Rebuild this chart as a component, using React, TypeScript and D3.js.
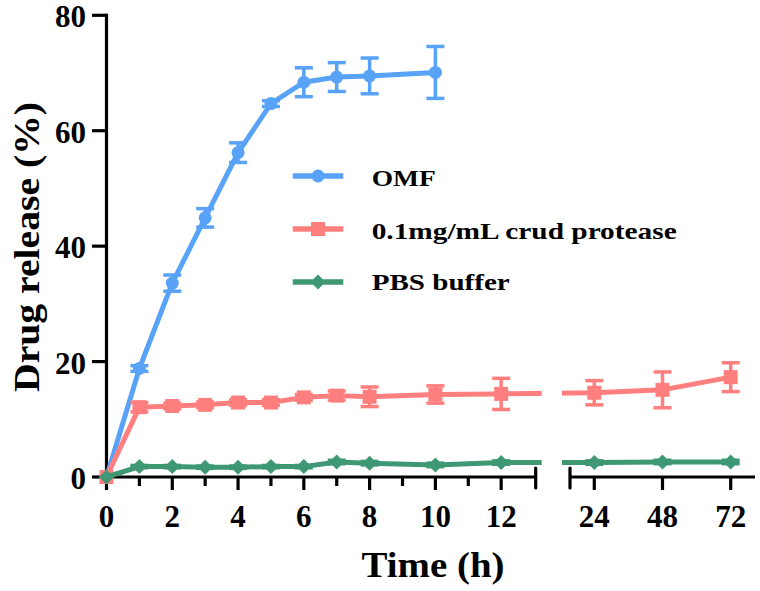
import React from "react";
import * as d3 from "d3";

const timesOMF = [0, 1, 2, 3, 4, 5, 6, 7, 8, 10];
const omfValues = [0, 18.8, 33.6, 44.9, 56.2, 64.7, 68.4, 69.3, 69.5, 70.1];
const omfErrors = [0, 0.5, 1.4, 1.6, 1.7, 0.5, 2.5, 2.5, 3.1, 4.5];

const timesAll = [0, 1, 2, 3, 4, 5, 6, 7, 8, 10, 12, 24, 48, 72];
const proteaseValues = [0, 12.1, 12.3, 12.5, 12.9, 12.9, 13.8, 14.1, 13.9, 14.3, 14.4, 14.6, 15.1, 17.3];
const proteaseErrors = [0, 0.8, 0.5, 0.5, 0.5, 0.5, 0.5, 0.8, 1.7, 1.5, 2.7, 2.1, 3.1, 2.5];
const pbsValues = [0, 1.8, 1.8, 1.7, 1.7, 1.8, 1.8, 2.6, 2.4, 2.1, 2.5, 2.5, 2.6, 2.6];
const pbsErrors = [0, 0.2, 0.2, 0.2, 0.2, 0.2, 0.2, 0.3, 0.3, 0.3, 0.3, 0.3, 0.3, 0.3];

const xMajor1 = [0, 2, 4, 6, 8, 10, 12];
const xMinor1 = [1, 3, 5, 7, 9, 11];
const xMajor2 = [24, 48, 72];
const yTicks = [0, 20, 40, 60, 80];

const legendLabels = ["OMF", "0.1mg/mL crud protease", "PBS buffer"];
const legendLengths = [64, 305, 138];

const BLUE = "#58a2f7";
const RED = "#ff7f7f";
const GREEN = "#3f9874";
const FONT = "Liberation Serif";

const seg1Domain = [0, 13.05];
const seg2Domain = [15.45, 80.55];

export default function App() {
  const xs1 = d3.scaleLinear().domain(seg1Domain).range([106.5, 535.7]);
  const xs2 = d3.scaleLinear().domain(seg2Domain).range([570, 755]);
  const ys = d3.scaleLinear().domain([0, 80]).range([477, 15.3]);
  const px = (t: number) => (t <= seg1Domain[1] ? xs1(t) : xs2(t));

  const series = [
    { times: timesOMF, values: omfValues, errors: omfErrors, color: BLUE, shape: "circle" },
    { times: timesAll, values: proteaseValues, errors: proteaseErrors, color: RED, shape: "square" },
    { times: timesAll, values: pbsValues, errors: pbsErrors, color: GREEN, shape: "diamond" },
  ];

  const line = d3
    .line<[number, number]>()
    .x((d) => px(d[0]))
    .y((d) => ys(d[1]));

  const marker = (shape: string, cx: number, cy: number, color: string, key?: string) => {
    if (shape === "circle") return <circle key={key} cx={cx} cy={cy} r={6.5} fill={color} />;
    if (shape === "square")
      return <rect key={key} x={cx - 7} y={cy - 7} width={14} height={14} fill={color} />;
    const s = 7.5;
    return (
      <path
        key={key}
        d={`M${cx},${cy - s}L${cx + s},${cy}L${cx},${cy + s}L${cx - s},${cy}Z`}
        fill={color}
      />
    );
  };

  const axisY = ys(0);
  const textStyle = { fontFamily: FONT, fontWeight: 700 } as React.CSSProperties;

  return (
    <svg
      width={760}
      height={591}
      style={{ position: "fixed", left: 0, top: 0, background: "#fff" }}
    >
      <defs>
        <clipPath id="segs">
          <rect x={0} y={0} width={541.7} height={591} />
          <rect x={562} y={0} width={198} height={591} />
        </clipPath>
      </defs>

      {/* Y axis */}
      <line x1={106.5} x2={106.5} y1={ys(80) - 1.5} y2={axisY + 1.5} stroke="#000" strokeWidth={3.2} />
      {yTicks.map((t) => (
        <g key={"yt" + t}>
          <line x1={92} x2={106.5} y1={ys(t)} y2={ys(t)} stroke="#000" strokeWidth={3.2} />
          <text x={86} y={ys(t) + 12} textAnchor="end" fontSize={31} style={textStyle}>
            {t}
          </text>
        </g>
      ))}

      {/* X axis segment 1 */}
      <line x1={105} x2={xs1(seg1Domain[1])} y1={axisY} y2={axisY} stroke="#000" strokeWidth={3.2} />
      <line x1={xs1(seg1Domain[1])} x2={xs1(seg1Domain[1])} y1={axisY - 9} y2={axisY + 11} stroke="#000" strokeWidth={3.2} strokeLinecap="round" />
      {xMajor1.map((t) => (
        <g key={"xm1" + t}>
          <line x1={xs1(t)} x2={xs1(t)} y1={axisY} y2={axisY + 13} stroke="#000" strokeWidth={3.2} />
          <text x={xs1(t)} y={527} textAnchor="middle" fontSize={31} style={textStyle}>
            {t}
          </text>
        </g>
      ))}
      {xMinor1.map((t) => (
        <line key={"xn1" + t} x1={xs1(t)} x2={xs1(t)} y1={axisY} y2={axisY + 9} stroke="#000" strokeWidth={3.2} />
      ))}

      {/* X axis segment 2 */}
      <line x1={xs2(seg2Domain[0])} x2={xs2(seg2Domain[1])} y1={axisY} y2={axisY} stroke="#000" strokeWidth={3.2} />
      <line x1={xs2(seg2Domain[0])} x2={xs2(seg2Domain[0])} y1={axisY - 9} y2={axisY + 11} stroke="#000" strokeWidth={3.2} strokeLinecap="round" />
      {xMajor2.map((t) => (
        <g key={"xm2" + t}>
          <line x1={xs2(t)} x2={xs2(t)} y1={axisY} y2={axisY + 13} stroke="#000" strokeWidth={3.2} />
          <text x={xs2(t)} y={527} textAnchor="middle" fontSize={31} style={textStyle}>
            {t}
          </text>
        </g>
      ))}

      {/* Axis titles */}
      <text
        x={433}
        y={577}
        textAnchor="middle"
        fontSize={35}
        style={textStyle}
        textLength={143}
        lengthAdjust="spacingAndGlyphs"
      >
        Time (h)
      </text>
      <text
        transform="translate(39,247) rotate(-90)"
        textAnchor="middle"
        fontSize={35}
        style={textStyle}
        textLength={290}
        lengthAdjust="spacingAndGlyphs"
      >
        Drug release (%)
      </text>

      {/* Series */}
      {series.map((s, i) => {
        const pts = s.times.map((t, j) => [t, s.values[j]] as [number, number]);
        return (
          <g key={"s" + i}>
            <path d={line(pts) || ""} fill="none" stroke={s.color} strokeWidth={5} clipPath="url(#segs)" strokeLinejoin="round" />
            {s.times.map((t, j) => {
              const x = px(t);
              const e = s.errors[j];
              if (!e) return null;
              const y1 = ys(s.values[j] + e);
              const y2 = ys(s.values[j] - e);
              return (
                <g key={"e" + j} stroke={s.color} strokeWidth={3.5}>
                  <line x1={x} x2={x} y1={y1} y2={y2} />
                  <line x1={x - 9} x2={x + 9} y1={y1} y2={y1} />
                  <line x1={x - 9} x2={x + 9} y1={y2} y2={y2} />
                </g>
              );
            })}
            {s.times.map((t, j) => marker(s.shape, px(t), ys(s.values[j]), s.color, "m" + j))}
          </g>
        );
      })}

      {/* Legend */}
      {series.map((s, i) => {
        const ly = [176, 229, 282][i];
        const ty = [186, 238.5, 290][i];
        return (
          <g key={"lg" + i}>
            <line x1={292.7} x2={343.3} y1={ly} y2={ly} stroke={s.color} strokeWidth={5.5} />
            {marker(s.shape, 318, ly, s.color)}
            <text
              x={371.7}
              y={ty}
              fontSize={24}
              style={textStyle}
              textLength={legendLengths[i]}
              lengthAdjust="spacingAndGlyphs"
            >
              {legendLabels[i]}
            </text>
          </g>
        );
      })}
    </svg>
  );
}
